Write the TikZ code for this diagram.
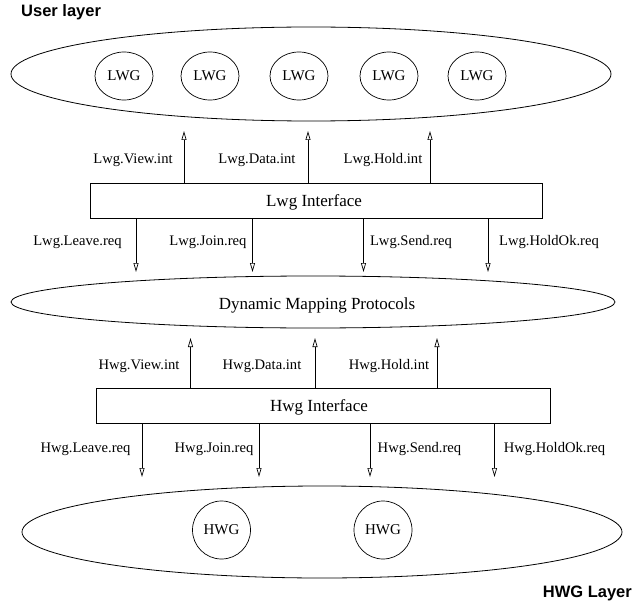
\documentclass[tikz,border=0pt]{standalone}
\usepackage{fontspec}
\setmainfont{Liberation Serif}
\newfontfamily\hv{Liberation Sans}
\usetikzlibrary{arrows.meta,shapes.geometric}
\begin{document}
\begin{tikzpicture}[x=1pt,y=-1pt,
  layer/.style={ellipse, draw, line width=0.8pt, inner sep=0pt},
  grp/.style={ellipse, draw, line width=0.7pt, minimum width=58pt, minimum height=48pt, inner sep=0pt, font=\fontsize{15}{18}\selectfont},
  hgrp/.style={circle, draw, line width=0.7pt, minimum size=58pt, inner sep=0pt, font=\fontsize{15}{18}\selectfont},
  iface/.style={rectangle, draw, line width=0.8pt, minimum height=35pt, inner sep=0pt},
  lbl/.style={anchor=base, font=\fontsize{14.6}{17}\selectfont, inner sep=0pt},
  big/.style={anchor=base, font=\fontsize{17}{20}\selectfont, inner sep=0pt},
  ttl/.style={font=\hv\bfseries\fontsize{16.5}{20}\selectfont, inner sep=0pt},
  arr/.style={-{Triangle[open,length=9pt,width=5pt]}, line width=0.7pt}]
\useasboundingbox (0,0) rectangle (634,604);

% titles
\node[ttl, anchor=base west] (t1) at (21,17) {User layer};
\node[ttl, anchor=base east] (t2) at (632,597) {HWG Layer};

% user layer
\node[layer, minimum width=600pt, minimum height=94pt] (user) at (311,74) {};
\node[grp] (l1) at (124,76) {LWG};
\node[grp] (l2) at (210,76) {LWG};
\node[grp] (l3) at (299,76) {LWG};
\node[grp] (l4) at (389,76) {LWG};
\node[grp] (l5) at (477,76) {LWG};

% Lwg interface
\node[iface, minimum width=452pt] (lwgif) at (316,200.5) {};
\node[big] (lwgt) at (314,206) {Lwg Interface};

% dynamic mapping
\node[layer, minimum width=604pt, minimum height=52pt] (dmp) at (313,302) {};
\node[big] (dmpt) at (317,309) {Dynamic Mapping Protocols};

% Hwg interface
\node[iface, minimum width=454pt] (hwgif) at (323,405.5) {};
\node[big] (hwgt) at (319,411) {Hwg Interface};

% HWG layer
\node[layer, minimum width=600pt, minimum height=92pt] (hwg) at (322,532) {};
\node[hgrp] (h1) at (221.5,530) {HWG};
\node[hgrp] (h2) at (383,530) {HWG};

% up arrows Lwg
\coordinate (u1) at (184,131);
\coordinate (u2) at (308,131);
\coordinate (u3) at (430,131);
\draw[arr] (lwgif.north -| u1) -- (u1);
\draw[arr] (lwgif.north -| u2) -- (u2);
\draw[arr] (lwgif.north -| u3) -- (u3);
\node[lbl] (lu1) at (133,164) {Lwg.View.int};
\node[lbl] (lu2) at (257,164) {Lwg.Data.int};
\node[lbl] (lu3) at (383,164) {Lwg.Hold.int};

% down arrows Lwg
\coordinate (d1) at (136,272);
\coordinate (d2) at (252.5,272);
\coordinate (d3) at (363.5,272);
\coordinate (d4) at (488,272);
\draw[arr] (lwgif.south -| d1) -- (d1);
\draw[arr] (lwgif.south -| d2) -- (d2);
\draw[arr] (lwgif.south -| d3) -- (d3);
\draw[arr] (lwgif.south -| d4) -- (d4);
\node[lbl] (ld1) at (77.5,245) {Lwg.Leave.req};
\node[lbl] (ld2) at (208,245) {Lwg.Join.req};
\node[lbl] (ld3) at (411,245) {Lwg.Send.req};
\node[lbl] (ld4) at (549,245) {Lwg.HoldOk.req};

% up arrows Hwg
\coordinate (v1) at (190.5,338);
\coordinate (v2) at (315,338);
\coordinate (v3) at (437,338);
\draw[arr] (hwgif.north -| v1) -- (v1);
\draw[arr] (hwgif.north -| v2) -- (v2);
\draw[arr] (hwgif.north -| v3) -- (v3);
\node[lbl] (hu1) at (139,369) {Hwg.View.int};
\node[lbl] (hu2) at (262,369) {Hwg.Data.int};
\node[lbl] (hu3) at (389,369) {Hwg.Hold.int};

% down arrows Hwg
\coordinate (e1) at (142,477);
\coordinate (e2) at (259,477);
\coordinate (e3) at (370,477);
\coordinate (e4) at (494.5,477);
\draw[arr] (hwgif.south -| e1) -- (e1);
\draw[arr] (hwgif.south -| e2) -- (e2);
\draw[arr] (hwgif.south -| e3) -- (e3);
\draw[arr] (hwgif.south -| e4) -- (e4);
\node[lbl] (hd1) at (85.5,452) {Hwg.Leave.req};
\node[lbl] (hd2) at (214,452) {Hwg.Join.req};
\node[lbl] (hd3) at (419.5,452) {Hwg.Send.req};
\node[lbl] (hd4) at (554.5,452) {Hwg.HoldOk.req};
\end{tikzpicture}
\end{document}
